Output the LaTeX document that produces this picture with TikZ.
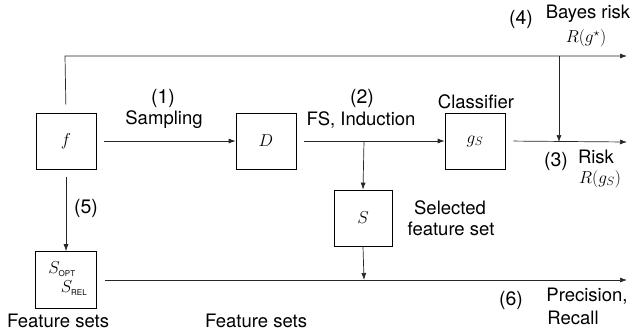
\documentclass[tikz,border=0pt]{standalone}
\usepackage{fontspec}
\setmainfont{TeX Gyre Heros}
\usetikzlibrary{arrows.meta}
\tikzset{
  blk/.style={draw=black, line width=0.7pt, minimum width=60pt, minimum height=56pt, inner sep=0pt, font=\fontsize{17}{19}\selectfont},
  lbl/.style={font=\fontsize{18.5}{20}\selectfont, inner sep=0pt},
  num/.style={font=\fontsize{19.5}{21}\selectfont, inner sep=0pt},
  mth/.style={font=\fontsize{17}{19}\selectfont, inner sep=0pt},
  conn/.style={draw=black!85, line width=0.7pt},
  arr/.style={conn, -{Latex[length=7pt,width=5pt]}},
  gap/.style={shorten <=8pt}
}
\newcommand{\subtxt}[1]{\mbox{\fontsize{8}{9}\selectfont #1}}
\begin{document}
\begin{tikzpicture}[x=1pt,y=-1pt]
\useasboundingbox (0,0) rectangle (632,332);
% boxes
\node[blk] (f) at (66,141) {$f$};
\node[blk] (D) at (266,141) {$D$};
\node[blk] (g) at (475,141) {$g_S$};
\node[blk, minimum width=58pt] (S) at (363,218) {$S$};
\node[blk, minimum width=61pt, minimum height=57pt] (fs) at (66,280) {};
\node[mth] (sopt) at (62,269) {$S_{\subtxt{OPT}}$};
\node[mth] (srel) at (74,288) {$S_{\subtxt{REL}}$};
% coordinates
\coordinate (topL) at (65,56);
\coordinate (topR) at (627,56);
\coordinate (bayes) at (559,56);
\coordinate (riskR) at (627,142);
\coordinate (riskJ) at (559,142);
\coordinate (sj) at (364,141);
\coordinate (botR) at (627,280);
\coordinate (botJ) at (364,280);
% connectors
\draw[arr, gap] (f.north) -- (topL) -- (topR);
\draw[arr] (bayes) -- (riskJ);
\draw[arr, gap] (g.east) -- (riskR);
\draw[arr, gap] (f.east) -- (D.west);
\draw[arr, gap] (D.east) -- (g.west);
\draw[arr] (sj) -- (S.north);
\draw[arr] (S.south) -- (botJ);
\draw[arr, gap] (fs.east) -- (botR);
\draw[arr, gap] (f.south) -- (fs.north);
% labels
\node[num] (l1) at (163,98) {(1)};
\node[lbl] (l1b) at (164,120) {Sampling};
\node[num] (l2) at (362,98) {(2)};
\node[lbl] (l2b) at (361,120) {FS, Induction};
\node[lbl] (cl) at (476,102) {Classifier};
\node[num] (l4) at (521,19) {(4)};
\node[lbl] (br) at (588,14) {Bayes risk};
\node[mth] (rg) at (586,38) {$R(g^\star)$};
\node[num] (l3) at (556,161) {(3)};
\node[lbl] (rk) at (596,157) {Risk};
\node[mth] (rgs) at (600,179) {$R(g_S)$};
\node[num] (l5) at (86,208) {(5)};
\node[lbl] (sel1) at (450,208) {Selected};
\node[lbl] (sel2) at (451,229) {feature set};
\node[num] (l6) at (511,300) {(6)};
\node[lbl] (pr) at (587,296) {Precision,};
\node[lbl] (rc) at (573,318) {Recall};
\node[lbl] (fs1) at (58,321) {Feature sets};
\node[lbl] (fs2) at (256,321) {Feature sets};
\end{tikzpicture}
\end{document}
